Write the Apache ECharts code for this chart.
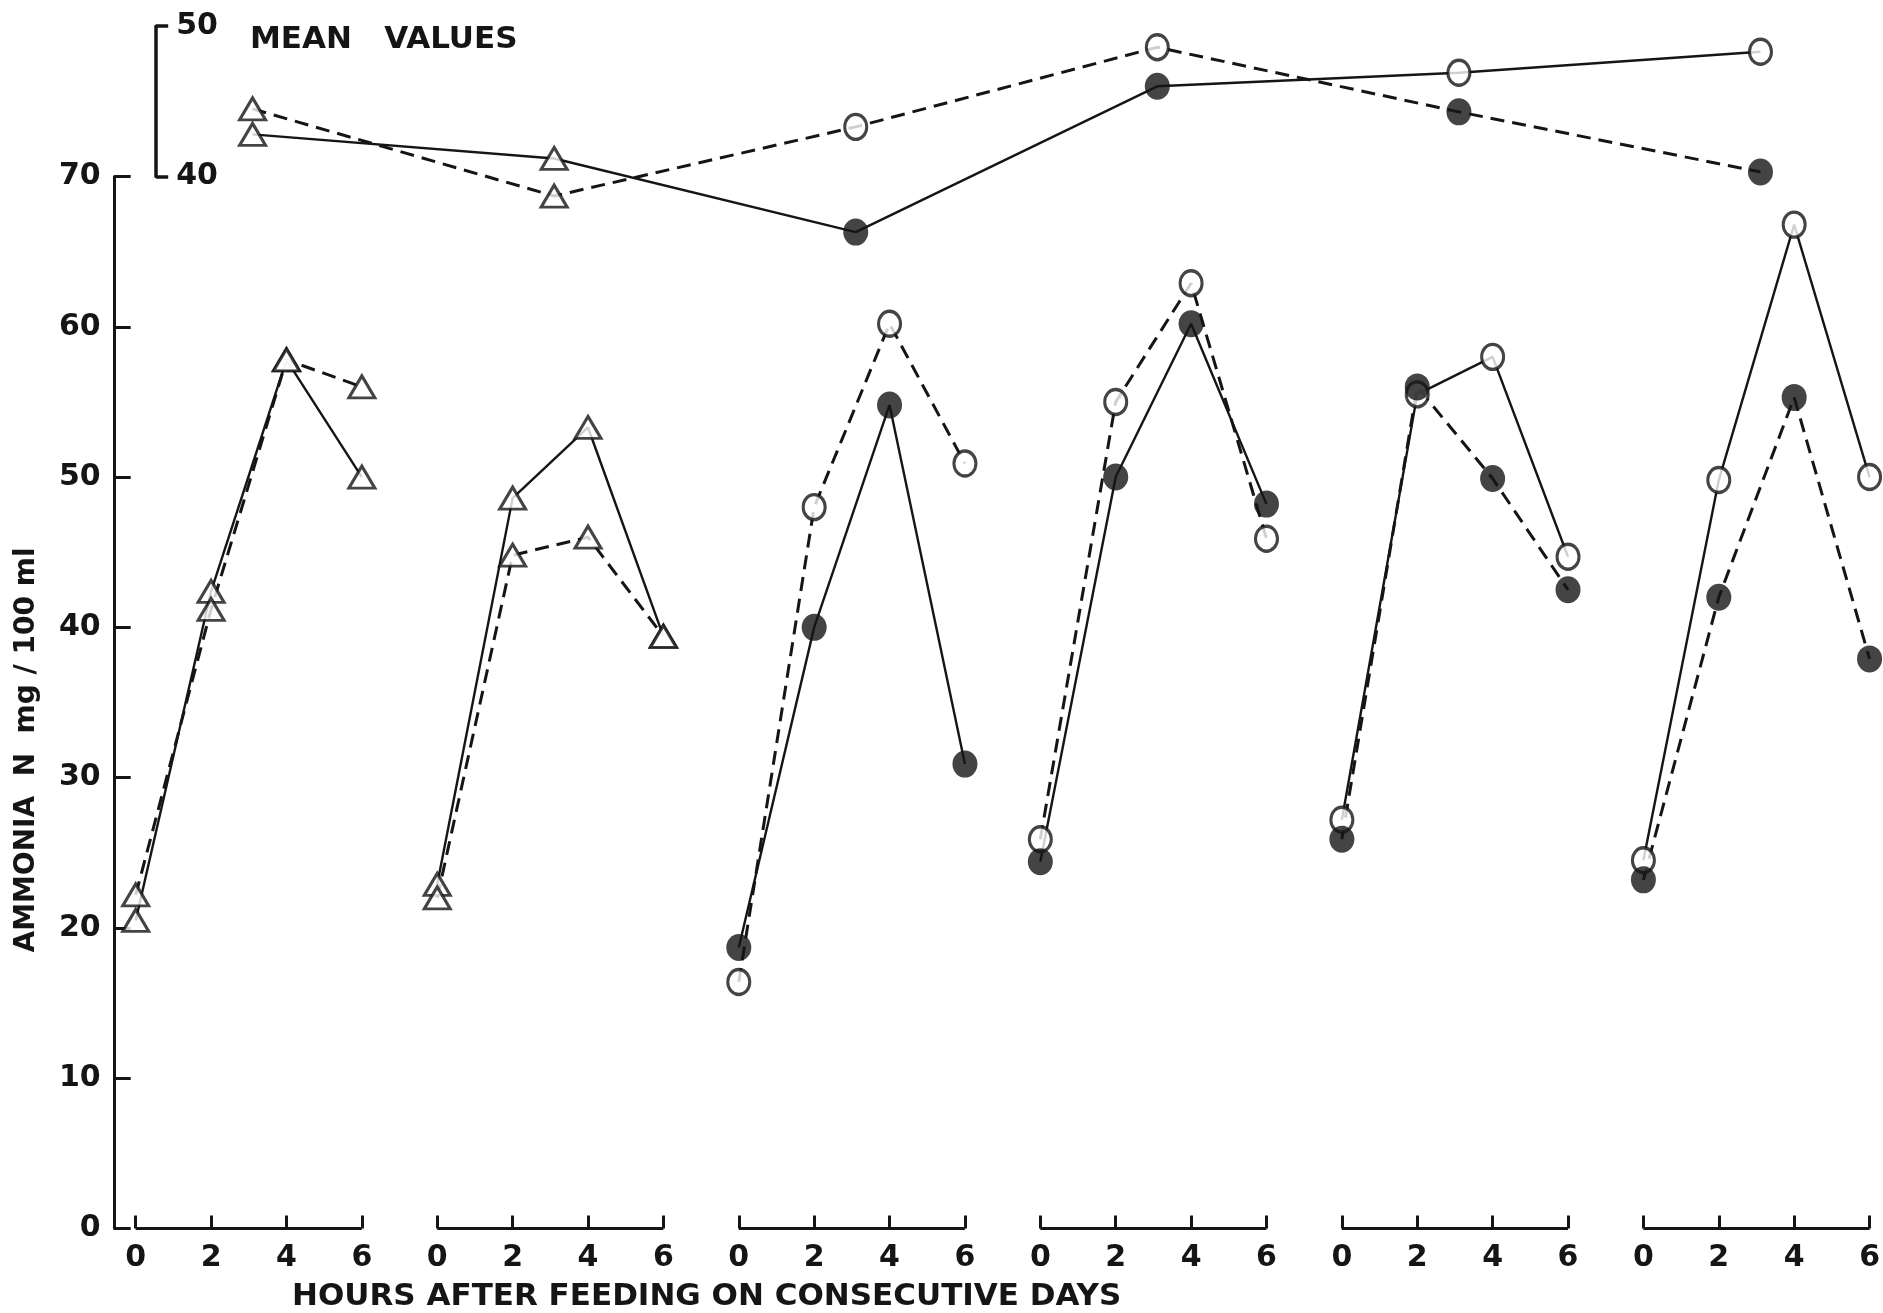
<!DOCTYPE html>
<html><head><meta charset="utf-8">
<script src="https://cdn.jsdelivr.net/npm/echarts@6/dist/echarts.min.js"></script>
<style>html,body{margin:0;padding:0;background:#fff}#c{width:1883px;height:1313px}</style>
</head><body><div id="c"></div>
<script>
// ---- data ----
const hourLabels = ['0', '2', '4', '6'];
const hours = [0, 2, 4, 6];
const solidDaily = [
  [20.5, 42.4, 57.8, 50.0],
  [22.9, 48.6, 53.3, 39.4],
  [18.7, 40.0, 54.8, 30.9],
  [24.4, 50.0, 60.2, 48.2],
  [27.2, 55.5, 58.0, 44.7],
  [24.5, 49.8, 66.8, 50.0]
];
const dashedDaily = [
  [22.2, 41.2, 57.8, 56.0],
  [22.0, 44.8, 46.0, 39.4],
  [16.4, 48.0, 60.2, 50.9],
  [25.9, 55.0, 62.9, 45.9],
  [25.9, 56.0, 49.9, 42.5],
  [23.2, 42.0, 55.3, 37.9]
];
const solidMean = [42.8, 41.2, 36.3, 46.0, 46.9, 48.3];
const dashedMean = [44.5, 38.7, 43.3, 48.6, 44.3, 40.3];
const meanHour = 3.1;
const solidMarkers = ['triangle', 'triangle', 'filled', 'filled', 'open', 'open'];
const dashedMarkers = ['triangle', 'triangle', 'open', 'open', 'filled', 'filled'];
const mainTicks = [0, 70, 10];
const meanTicks = [40, 50, 10];

// ---- layout / style ----
const INK = '#151515';
const FONT = 'DejaVu Sans';
const xPos = (day, hour) => day * 4 + hour / 2;
const symbolStyles = {
  triangle: { symbol: 'triangle', symbolSize: [26, 22], itemStyle: { color: '#fff', borderColor: INK, borderWidth: 3 } },
  open: { symbol: 'circle', symbolSize: [22, 25], itemStyle: { color: '#fff', borderColor: INK, borderWidth: 3.2 } },
  filled: { symbol: 'circle', symbolSize: [25, 27], itemStyle: { color: INK, borderWidth: 0 } }
};
const solidLine = { color: INK, width: 2.4, type: 'solid' };
const dashedLine = { color: INK, width: 3, type: [14, 8] };

const series = [];
const lineBase = { type: 'line', z: 2, clip: false, showSymbol: false, silent: true };
// daily curves (one per day, so days are not joined)
solidDaily.forEach((vals, d) => {
  series.push(Object.assign({}, lineBase, { xAxisIndex: 0, yAxisIndex: 0, lineStyle: solidLine,
    data: hours.map((h, k) => [xPos(d, h), vals[k]]) }));
});
dashedDaily.forEach((vals, d) => {
  series.push(Object.assign({}, lineBase, { xAxisIndex: 0, yAxisIndex: 0, lineStyle: dashedLine,
    data: hours.map((h, k) => [xPos(d, h), vals[k]]) }));
});
// mean curves
series.push(Object.assign({}, lineBase, { xAxisIndex: 1, yAxisIndex: 1, lineStyle: solidLine,
  data: solidMean.map((v, d) => [xPos(d, meanHour), v]) }));
series.push(Object.assign({}, lineBase, { xAxisIndex: 1, yAxisIndex: 1, lineStyle: dashedLine,
  data: dashedMean.map((v, d) => [xPos(d, meanHour), v]) }));
// day brackets along the x axis
for (let d = 0; d < solidDaily.length; d++) {
  series.push(Object.assign({}, lineBase, { xAxisIndex: 0, yAxisIndex: 0, z: 1,
    lineStyle: { color: INK, width: 3 }, data: [[xPos(d, hours[0]), 0], [xPos(d, hours[3]), 0]] }));
}
// markers on top
['triangle', 'open', 'filled'].forEach(kind => {
  const daily = [], mean = [];
  for (let d = 0; d < solidDaily.length; d++) {
    if (solidMarkers[d] === kind) {
      hours.forEach((h, k) => daily.push([xPos(d, h), solidDaily[d][k]]));
      mean.push([xPos(d, meanHour), solidMean[d]]);
    }
    if (dashedMarkers[d] === kind) {
      hours.forEach((h, k) => daily.push([xPos(d, h), dashedDaily[d][k]]));
      mean.push([xPos(d, meanHour), dashedMean[d]]);
    }
  }
  const st = symbolStyles[kind];
  series.push(Object.assign({ type: 'scatter', xAxisIndex: 0, yAxisIndex: 0, z: 3, clip: false, silent: true, data: daily }, st));
  series.push(Object.assign({ type: 'scatter', xAxisIndex: 1, yAxisIndex: 1, z: 3, clip: false, silent: true, data: mean }, st));
});

const GL = 135.7, GW = 1734.1;
const tickFont = { fontSize: 30, fontWeight: 'bold', color: INK, fontFamily: FONT };
const option = {
  animation: false,
  backgroundColor: '#ffffff',
  grid: [
    { left: GL, top: 176.5, width: GW, height: 1052 },
    { left: GL, top: 26.2, width: GW, height: 150.3 }
  ],
  xAxis: [
    { type: 'value', gridIndex: 0, min: 0, max: 23, interval: 1,
      axisLine: { show: false, onZero: false },
      axisTick: { show: true, inside: true, length: 13, lineStyle: { color: INK, width: 3 } },
      axisLabel: Object.assign({ formatter: v => hourLabels[Math.round(v) % 4], margin: 15 }, tickFont),
      splitLine: { show: false } },
    { type: 'value', gridIndex: 1, min: 0, max: 23, show: false }
  ],
  yAxis: [
    { type: 'value', gridIndex: 0, min: mainTicks[0], max: mainTicks[1], interval: mainTicks[2], offset: 21,
      axisLine: { show: true, onZero: false, lineStyle: { color: INK, width: 3 } },
      axisTick: { show: true, inside: true, length: 16, lineStyle: { color: INK, width: 3 } },
      axisLabel: Object.assign({ margin: 14 }, tickFont),
      splitLine: { show: false } },
    { type: 'value', gridIndex: 1, min: meanTicks[0], max: meanTicks[1], interval: meanTicks[2], offset: -20.5,
      axisLine: { show: true, onZero: false, lineStyle: { color: INK, width: 3.5 } },
      axisTick: { show: true, inside: true, length: 12, lineStyle: { color: INK, width: 3.5 } },
      axisLabel: Object.assign({ inside: true, margin: 20 }, tickFont),
      splitLine: { show: false } }
  ],
  graphic: [
    { type: 'text', x: 250, y: 40, silent: true, style: { text: 'MEAN   VALUES', font: 'bold 31px "DejaVu Sans"', fill: INK, align: 'left', verticalAlign: 'middle', textAlign: 'left', textVerticalAlign: 'middle' } },
    { type: 'text', x: 292, y: 1297, silent: true, style: { text: 'HOURS AFTER FEEDING ON CONSECUTIVE DAYS', font: 'bold 31px "DejaVu Sans"', fill: INK, align: 'left', verticalAlign: 'middle', textAlign: 'left', textVerticalAlign: 'middle' } },
    { type: 'text', x: 27, y: 750, rotation: Math.PI / 2, silent: true, style: { text: 'AMMONIA  N  mg / 100 ml', font: 'bold 28px "DejaVu Sans"', fill: INK, align: 'center', verticalAlign: 'middle', textAlign: 'center', textVerticalAlign: 'middle' } }
  ],
  series: series
};
const chart = echarts.init(document.getElementById('c'), null, { renderer: 'canvas' });
chart.setOption(option);
</script></body></html>
